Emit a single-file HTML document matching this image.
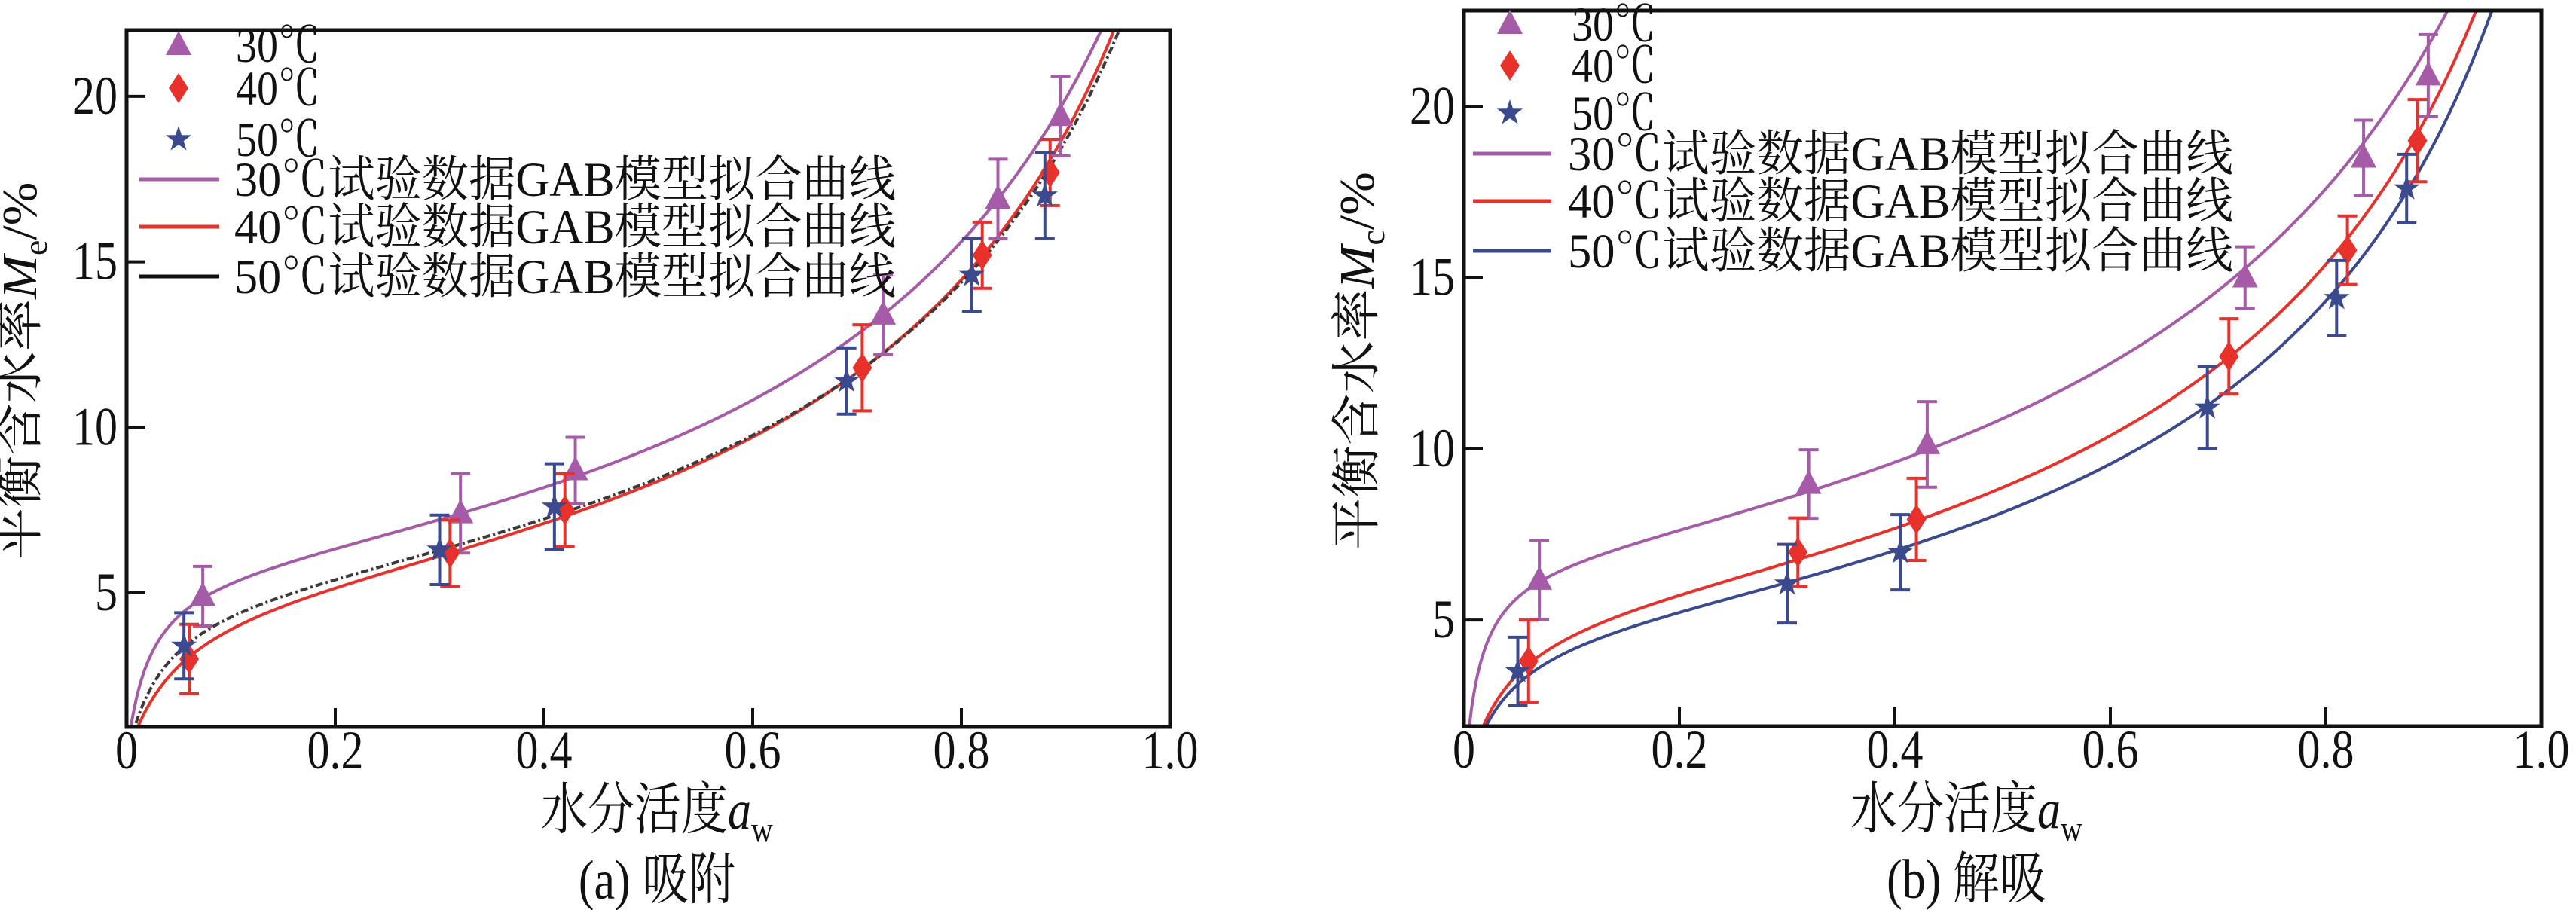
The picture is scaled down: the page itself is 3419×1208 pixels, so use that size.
<!DOCTYPE html>
<html><head><meta charset="utf-8"><style>
html,body{margin:0;padding:0;background:#fff}
svg{display:block}
text{font-family:"Liberation Serif","Noto Serif CJK SC",serif;fill:#111}
</style></head><body>
<svg id="c" width="3419" height="1208" viewBox="0 0 3419 1208" xmlns="http://www.w3.org/2000/svg"></svg>
<script>
// ---- data ----
const xTicks=[0,0.2,0.4,0.6,0.8,1.0];
const xTickLabels=["0","0.2","0.4","0.6","0.8","1.0"];
const yTicks=[5,10,15,20];
const yTickLabels=["5","10","15","20"];
const seriesNames=["30℃","40℃","50℃"];
const curveNames=["30℃试验数据GAB模型拟合曲线","40℃试验数据GAB模型拟合曲线","50℃试验数据GAB模型拟合曲线"];
// (a) adsorption
const aAw30=[0.073,0.32,0.43,0.725,0.835,0.895];
const aM30=[4.9,7.4,8.7,13.4,16.9,19.4];
const aE30=[0.9,1.2,1.0,1.2,1.2,1.2];
const aAw40=[0.06,0.31,0.42,0.705,0.82,0.885];
const aM40=[3.0,6.2,7.5,11.8,15.2,17.7];
const aE40=[1.05,1.0,1.1,1.3,1.0,1.0];
const aAw50=[0.055,0.30,0.41,0.69,0.81,0.88];
const aM50=[3.4,6.3,7.6,11.4,14.6,17.0];
const aE50=[1.0,1.05,1.3,1.0,1.1,1.3];
// GAB params [Mm, C, K]
const aGab30=[5.8,60,0.79];
const aGab40=[5.2,25,0.81];
const aGab50=[5.2,35,0.805];
// (b) desorption
const bAw30=[0.07,0.32,0.43,0.725,0.835,0.895];
const bM30=[6.17,8.97,10.13,15.0,18.5,20.9];
const bE30=[1.15,1.0,1.25,0.9,1.1,1.2];
const bAw40=[0.06,0.31,0.42,0.71,0.82,0.885];
const bM40=[3.8,6.98,7.94,12.7,15.8,19.0];
const bE40=[1.2,1.0,1.2,1.1,1.0,1.2];
const bAw50=[0.05,0.30,0.405,0.69,0.81,0.875];
const bM50=[3.5,6.06,6.98,11.2,14.4,17.6];
const bE50=[1.0,1.15,1.1,1.2,1.1,1.0];
const bGab30=[6.8,100,0.77];
const bGab40=[5.5,35,0.81];
const bGab50=[5.0,35,0.82];

const NS="http://www.w3.org/2000/svg";
const svg=document.getElementById('c');
function mk(tag,attrs,parent){const e=document.createElementNS(NS,tag);for(const k in attrs)e.setAttribute(k,attrs[k]);(parent||svg).appendChild(e);return e;}
function stretch(t,y,s){t.setAttribute('transform',`translate(0,${y}) scale(1,${s}) translate(0,${-y})`);}
const COL=["#a55ba8","#e8312b","#3b4a8e"];
function gab(p,a){const K=p[2]*a;return p[0]*p[1]*K/((1-K)*(1-K+p[1]*K));}

function chart(id,L,R,T,B,ymin,ymax,data,gabs,curveCols,leg,titleX,caption,axisSub){
  const g=mk('g',{});
  
  
  const X=v=>L+(R-L)*v, Y=v=>B-(B-T)*(v-ymin)/(ymax-ymin);
  const clip=mk('clipPath',{id:id+'clip'},g);
  mk('rect',{x:L,y:T,width:R-L,height:B-T},clip);
  gabs.forEach((p,i)=>{
    let d='';let started=false;
    for(let a=0.001;a<=0.999;a+=0.002){const m=gab(p,a);if(m>ymax+3)break;d+=(started?'L':'M')+X(a).toFixed(1)+','+Y(m).toFixed(1);started=true;}
    const pa=mk('path',{d:d,fill:'none',stroke:curveCols[i],'stroke-width':4,'clip-path':`url(#${id}clip)`},g);
    if(id==='a'&&i===2){pa.setAttribute('stroke-dasharray','10,4,3,4');pa.setAttribute('stroke','#3a3a3a');}
    
    
  });
  data.forEach((s,i)=>{
    s[0].forEach((aw,j)=>{
      const x=X(aw),y=Y(s[1][j]),y1=Y(s[1][j]+s[2][j]),y2=Y(s[1][j]-s[2][j]);
      const eb=mk('path',{d:`M${x},${y1}V${y2}M${x-13},${y1}H${x+13}M${x-13},${y2}H${x+13}`,stroke:COL[i],'stroke-width':4,fill:'none'},g);
      
      
      const mkr=marker(i,x,y,g);
      
      
    });
  });
  const fr=mk('rect',{x:L,y:T,width:R-L,height:B-T,fill:'none',stroke:'#111','stroke-width':5},g);
  
  
  xTicks.forEach((v,i)=>{
    if(i>0&&i<xTicks.length-1){const t=mk('line',{x1:X(v),x2:X(v),y1:B,y2:B-25,stroke:'#111','stroke-width':4},g);
    }
    const tl=mk('text',{x:X(v),y:B+55,'font-size':60,'text-anchor':'middle'},g);tl.textContent=xTickLabels[i];
    stretch(tl,B+55,1.2);
    
  });
  yTicks.forEach((v,i)=>{
    const t=mk('line',{x1:L,x2:L+25,y1:Y(v),y2:Y(v),stroke:'#111','stroke-width':4},g);
    
    const tl=mk('text',{x:L-12,y:Y(v)+23,'font-size':60,'text-anchor':'end'},g);tl.textContent=yTickLabels[i];
    stretch(tl,Y(v)+23,1.2);
    
  });
  const lg=mk('g',{},g);
  
  
  seriesNames.forEach((n,i)=>{
    const y=leg.my[i];
    marker(i,leg.mx,y,lg);
    const t=mk('text',{x:leg.tx,y:y+22,'font-size':60,textLength:112,lengthAdjust:'spacingAndGlyphs'},lg);t.textContent=n;
    stretch(t,y+22,1.08);
    
  });
  curveNames.forEach((n,i)=>{
    const y=leg.ly[i];
    mk('line',{x1:leg.lx1,x2:leg.lx2,y1:y,y2:y,stroke:(id==='a'&&i===2)?'#111':curveCols[i],'stroke-width':5},lg);
    const t=mk('text',{x:leg.ltx,y:y+22,'font-size':60,textLength:leg.lw,lengthAdjust:'spacingAndGlyphs'},lg);t.textContent=n;
    stretch(t,y+22,1.08);
    
  });
  const xt=mk('text',{x:titleX,y:B+135,'font-size':62,'text-anchor':'middle'},g);
  xt.innerHTML='水分活度<tspan font-style="italic">a</tspan><tspan font-size="40" dy="14">w</tspan>';
  stretch(xt,B+135,1.2);
  
  const yt=mk('text',{x:0,y:0,'font-size':66,'text-anchor':'middle',transform:`translate(${L-120},${(T+B)/2-10}) rotate(-90) scale(1.05,1)`},g);
  yt.innerHTML='平衡含水率<tspan font-style="italic">M</tspan><tspan font-size="44" dy="14">'+axisSub+'</tspan><tspan dy="-14">/%</tspan>';
  
  const cp=mk('text',{x:titleX,y:B+228,'font-size':62,'text-anchor':'middle'},g);
  cp.textContent=caption;
  stretch(cp,B+228,1.2);
  
}
function marker(i,x,y,p){
  if(i===0)return mk('path',{d:`M${x},${y-19}L${x+17},${y+13}L${x-17},${y+13}Z`,fill:COL[0]},p);
  if(i===1)return mk('path',{d:`M${x},${y-20}L${x+13},${y}L${x},${y+20}L${x-13},${y}Z`,fill:COL[1]},p);
  let d='';for(let k=0;k<10;k++){const r=k%2?7:18,ang=-Math.PI/2+k*Math.PI/5;d+=(k?'L':'M')+(x+r*Math.cos(ang)).toFixed(1)+','+(y+r*Math.sin(ang)).toFixed(1);}
  return mk('path',{d:d+'Z',fill:COL[2]},p);
}
chart('a',168,1553,40,965,0.95,22,
  [[aAw30,aM30,aE30],[aAw40,aM40,aE40],[aAw50,aM50,aE50]],[aGab30,aGab40,aGab50],[COL[0],COL[1],'#333'],
  {mx:237,tx:313,my:[60,117,185],lx1:185,lx2:291,ltx:311,ly:[238,301,367],lw:878},872,'(a) 吸附','e');
chart('b',1943,3373,14,964,1.9,22.8,
  [[bAw30,bM30,bE30],[bAw40,bM40,bE40],[bAw50,bM50,bE50]],[bGab30,bGab40,bGab50],COL,
  {mx:2004,tx:2086,my:[32,87,150],lx1:1955,lx2:2059,ltx:2081,ly:[204,267,333],lw:883},2610,'(b) 解吸','c');
</script>
</body></html>
